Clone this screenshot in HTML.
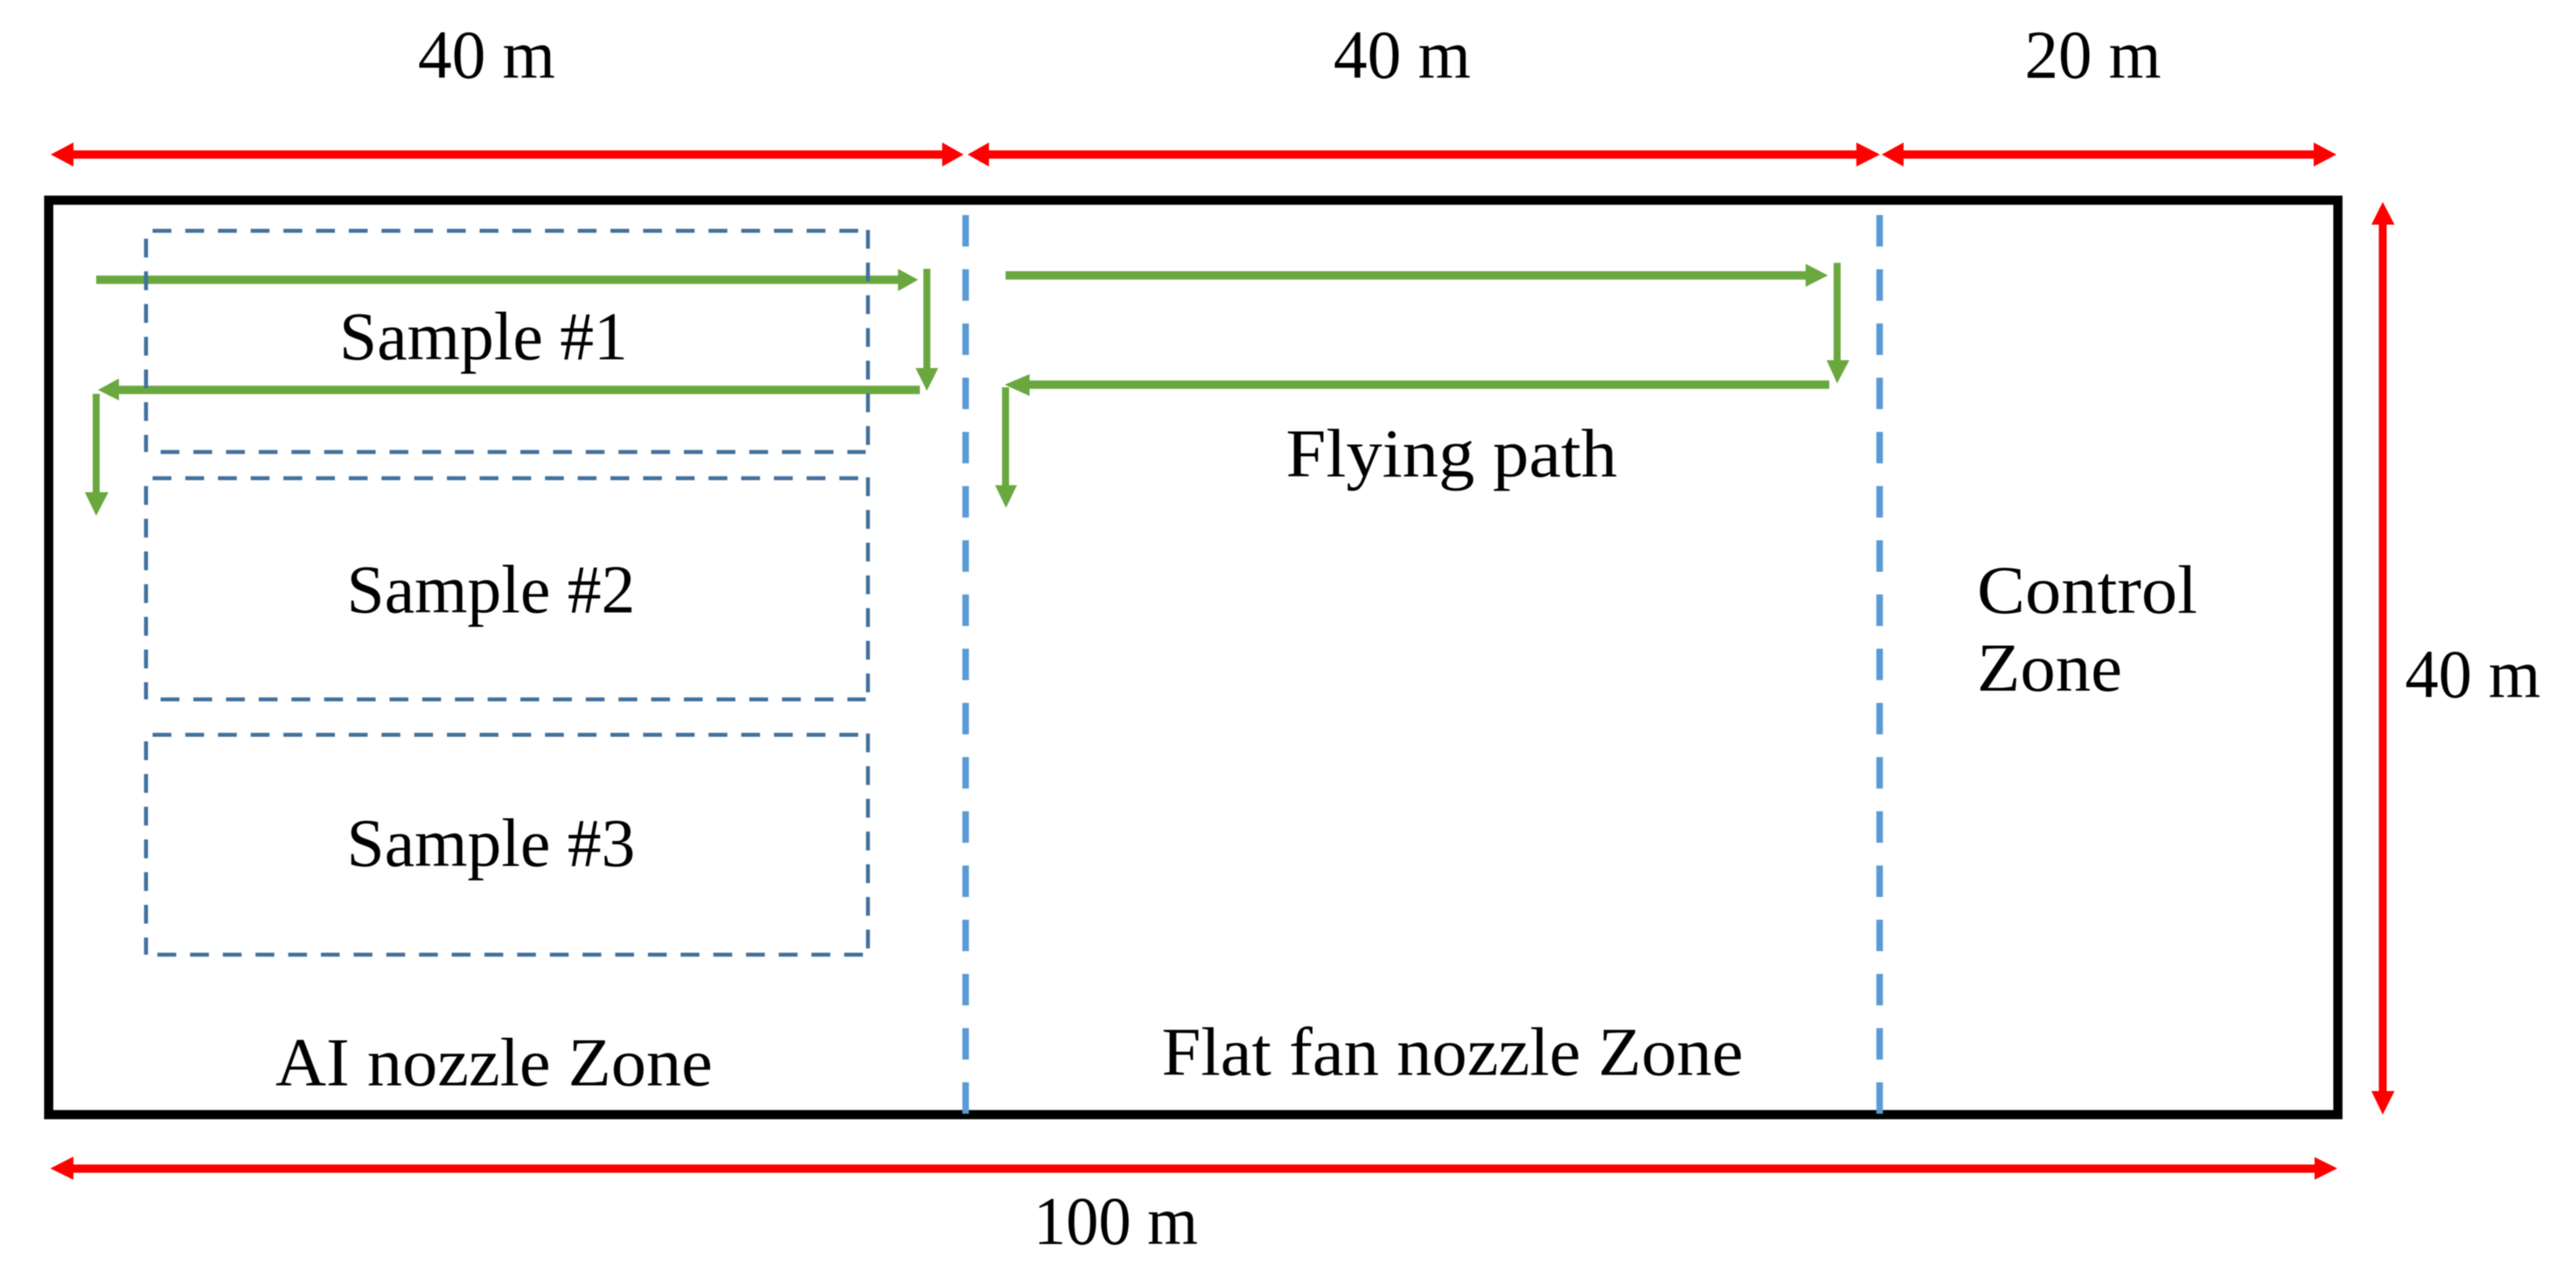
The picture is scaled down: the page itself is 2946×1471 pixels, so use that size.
<!DOCTYPE html>
<html>
<head>
<meta charset="utf-8">
<style>
html,body{margin:0;padding:0;background:#fff;width:2946px;height:1471px;overflow:hidden}
svg{display:block;filter:blur(.6px)}
text{font-family:"Liberation Serif",serif;font-size:78px;fill:#000}
.s line{stroke:#41719c;stroke-width:4.5;stroke-dasharray:21.5 15.9}
.b{stroke:#5b9bd5;stroke-width:7.5;stroke-dasharray:36 26}
.g{fill:#6aa83f}
.r{fill:#ff0000}
</style>
</head>
<body>
<svg width="2946" height="1471" viewBox="0 0 2946 1471" xmlns="http://www.w3.org/2000/svg">
<rect width="2946" height="1471" fill="#fff"/>

<!-- Frame -->
<rect x="55.7" y="229" width="2618" height="1046" fill="none" stroke="#000" stroke-width="10.5"/>

<!-- Zone dividers -->
<line class="b" x1="1104.3" y1="246" x2="1104.3" y2="1274"/>
<line class="b" x1="2149.6" y1="246" x2="2149.6" y2="1274"/>

<!-- Green flying path, AI zone -->
<g class="g">
<rect x="110" y="315.2" width="920" height="9.6"/>
<polygon points="1027,307.5 1050,320 1027,333"/>
<rect x="1056" y="307.5" width="8" height="116"/>
<polygon points="1047,421 1073,421 1060,447"/>
<rect x="134" y="441.2" width="918" height="9.6"/>
<polygon points="136,433 112,446 136,458"/>
<rect x="106" y="450.5" width="8" height="115"/>
<polygon points="97,563 124,563 110,590"/>

<!-- Green flying path, Flat fan zone -->
<rect x="1150" y="310.2" width="918" height="9.6"/>
<polygon points="2065,301.7 2090.5,315 2065,328"/>
<rect x="2097" y="300.7" width="8" height="114"/>
<polygon points="2089,412 2115,412 2101,438.5"/>
<rect x="1175" y="435.2" width="917" height="9.6"/>
<polygon points="1177.5,428 1149,440 1177.5,453"/>
<rect x="1146" y="443" width="8" height="114"/>
<polygon points="1138,555 1163,555 1150.5,581"/>
</g>

<!-- Sample boxes -->
<g class="s">
<line x1="174.5" y1="264" x2="992" y2="264"/>
<line x1="183.7" y1="517" x2="990" y2="517"/>
<line x1="167" y1="273" x2="167" y2="517"/>
<line x1="992.6" y1="263" x2="992.6" y2="517"/>

<line x1="174.5" y1="547" x2="992" y2="547"/>
<line x1="183.7" y1="800" x2="990" y2="800"/>
<line x1="167" y1="556" x2="167" y2="800"/>
<line x1="992.6" y1="546" x2="992.6" y2="800"/>

<line x1="174.5" y1="840.5" x2="992" y2="840.5"/>
<line x1="180" y1="1092" x2="990" y2="1092"/>
<line x1="167" y1="848" x2="167" y2="1092"/>
<line x1="992.6" y1="839" x2="992.6" y2="1092"/>
</g>

<!-- Red dimension arrows, top -->
<g class="r">
<rect x="82" y="172" width="998" height="9.5"/>
<polygon points="84,163 58,176.8 84,190.5"/>
<polygon points="1077.5,163 1102,176.8 1077.5,190.5"/>

<rect x="1129" y="172" width="996" height="9.5"/>
<polygon points="1131,163 1106.6,176.8 1131,190.5"/>
<polygon points="2123,163 2150,176.8 2123,190.5"/>

<rect x="2175" y="172" width="473" height="9.5"/>
<polygon points="2177,163 2152,176.8 2177,190.5"/>
<polygon points="2646,163 2672,176.8 2646,190.5"/>

<!-- Red right -->
<rect x="2720.5" y="255" width="9" height="995"/>
<polygon points="2712,257 2725,231 2738.5,257"/>
<polygon points="2712,1248 2725,1275 2738.5,1248"/>

<!-- Red bottom -->
<rect x="82" y="1332" width="2567" height="9.5"/>
<polygon points="84,1323 57.5,1336.5 84,1349.5"/>
<polygon points="2647,1323.5 2673,1336.5 2647,1349.5"/>
</g>

<!-- Labels -->
<text x="478" y="89" textLength="157" lengthAdjust="spacingAndGlyphs">40 m</text>
<text x="1525" y="89" textLength="157" lengthAdjust="spacingAndGlyphs">40 m</text>
<text x="2315.5" y="89" textLength="156" lengthAdjust="spacingAndGlyphs">20 m</text>
<text x="388" y="411" textLength="330" lengthAdjust="spacingAndGlyphs">Sample #1</text>
<text x="396.5" y="700.7" textLength="330" lengthAdjust="spacingAndGlyphs">Sample #2</text>
<text x="396.5" y="990.7" textLength="330" lengthAdjust="spacingAndGlyphs">Sample #3</text>
<text x="1470.5" y="545" textLength="379" lengthAdjust="spacingAndGlyphs">Flying path</text>
<text x="2261" y="701" textLength="252" lengthAdjust="spacingAndGlyphs">Control</text>
<text x="2261" y="790" textLength="166" lengthAdjust="spacingAndGlyphs">Zone</text>
<text x="2750.5" y="797.5" textLength="155" lengthAdjust="spacingAndGlyphs">40 m</text>
<text x="315" y="1241.5" textLength="500" lengthAdjust="spacingAndGlyphs">AI nozzle Zone</text>
<text x="1328.5" y="1229.5" textLength="665" lengthAdjust="spacingAndGlyphs">Flat fan nozzle Zone</text>
<text x="1182" y="1423" textLength="188" lengthAdjust="spacingAndGlyphs">100 m</text>
</svg>
</body>
</html>
